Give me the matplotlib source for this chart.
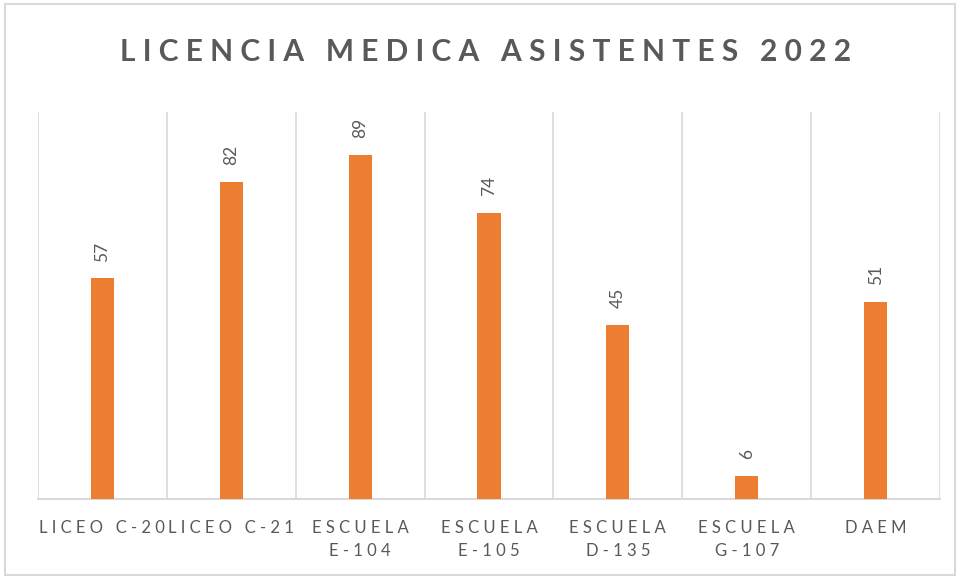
import numpy as np
import matplotlib.pyplot as plt
from matplotlib.patches import Rectangle

categorias = ['LICEO C-20', 'LICEO C-21', 'ESCUELA\nE-104', 'ESCUELA\nE-105',
              'ESCUELA\nD-135', 'ESCUELA\nG-107', 'DAEM']
valores = [57, 82, 89, 74, 45, 6, 51]
titulo = 'LICENCIA MEDICA ASISTENTES 2022'

naranja = '#ED7D31'
gris = '#595959'
gris_linea = '#D9D9D9'

plt.rcParams['font.family'] = ['Lato', 'DejaVu Sans']


def espaciar(texto, sep=' ', sep_palabra=None):
    # letter spacing: put a space between every char, wider between words
    if sep_palabra is None:
        sep_palabra = sep * 3
    lineas = []
    for linea in texto.split('\n'):
        palabras = [sep.join(p) for p in linea.split(' ')]
        lineas.append(sep_palabra.join(palabras))
    return '\n'.join(lineas)


fig = plt.figure(figsize=(9.59, 5.78), dpi=100)
ax = fig.add_axes([38 / 959, 79 / 578, 902 / 959, 387 / 578])

x = np.arange(len(categorias))
ax.bar(x, valores, width=0.18, color=naranja, zorder=3)

for xi, v in zip(x, valores):
    ax.annotate(str(v), (xi, v), xytext=(0, 12), textcoords='offset points',
                rotation=90, ha='center', va='bottom', color=gris, fontsize=12.5)

# category separators
for b in np.arange(len(categorias) + 1) - 0.5:
    ax.axvline(b, color=gris_linea, lw=1.2, zorder=1)

ax.set_xlim(-0.5, len(categorias) - 0.5)
ax.set_ylim(0, 100)
ax.set_yticks([])
ax.set_xticks(x, [espaciar(c) for c in categorias])
ax.tick_params(axis='x', length=0, pad=15, labelsize=12, labelcolor=gris)
for lab in ax.get_xticklabels():
    lab.set_linespacing(1.55)

for s in ['top', 'left', 'right']:
    ax.spines[s].set_visible(False)
ax.spines['bottom'].set_color(gris_linea)
ax.spines['bottom'].set_linewidth(1.5)

fig.text(486 / 959, 1 - 52 / 578, espaciar(titulo, ' ', '   '), ha='center', va='center',
         fontsize=21.5, fontweight='bold', color=gris)

# outer chart border
fig.patches.append(Rectangle((5 / 959, 3 / 578), 950 / 959, 571 / 578,
                             transform=fig.transFigure, fill=False,
                             edgecolor=gris_linea, lw=1.5))

fig.savefig('out.png', dpi=100)
